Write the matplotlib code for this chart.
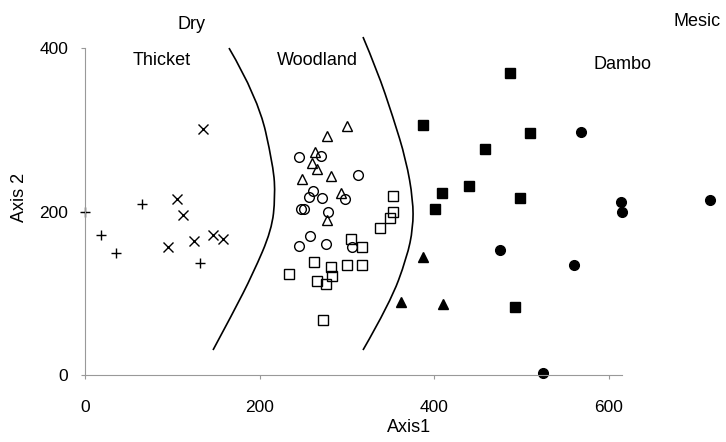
import matplotlib
matplotlib.use('Agg')
import matplotlib.pyplot as plt
from matplotlib.path import Path
from matplotlib.patches import PathPatch

plt.rcParams['font.family'] = ['Liberation Sans', 'DejaVu Sans']

# Thicket (+ and x)
plus_x = [0, 18, 35.5, 65, 132]
plus_y = [200, 171, 149, 209.5, 136.6]
cross_x = [135, 105.5, 112.3, 95.5, 124.5, 147, 157.8]
cross_y = [301, 215.6, 196, 157, 163.5, 171.6, 166]

# Woodland (open symbols)
otri_x = [300, 277, 263.6, 260, 265.5, 249, 282, 293, 277.7]
otri_y = [305, 292, 273, 259, 252, 240, 243, 223, 189.6]
ocirc_x = [245.6, 270.5, 312.5, 261, 257, 272, 298, 247, 251, 278, 258, 245, 276, 306]
ocirc_y = [267, 268, 244.6, 225, 218, 216.5, 215, 202.6, 202.6, 200, 170, 158, 160, 157]
osq_x = [352.5, 353, 349.6, 338.5, 304.5, 317, 263, 281.5, 300.6, 317, 234, 283.5, 266, 276, 273]
osq_y = [219, 200, 191.6, 180, 167, 157, 138, 132.5, 135, 135, 123.5, 121, 115, 111, 67]

# Dambo (filled symbols)
fsq_x = [487.5, 387.7, 510, 458, 440, 409, 498.5, 400.7, 493]
fsq_y = [369, 306, 296, 276, 231.6, 223, 217, 203.5, 83]
fcirc_x = [568.5, 614.7, 616, 716, 475.6, 560, 525]
fcirc_y = [297, 212, 200, 214, 153, 134, 3]
ftri_x = [387.4, 362.5, 410]
ftri_y = [144.7, 89.7, 87]

# boundary curves (control points)
left_x = [165, 198, 216, 218, 214, 192.5, 169.6, 146.7]
left_y = [400, 340, 255, 218, 177.5, 124, 76, 30.6]
right_x = [318.6, 334.7, 353, 368, 376, 376, 369, 349.6, 318.6]
right_y = [413.5, 373, 315.6, 263, 214, 180, 144, 88, 30.6]


def smooth_path(xs, ys):
    pts = list(zip(xs, ys))
    verts = [pts[0]]
    codes = [Path.MOVETO]
    for i in range(1, len(pts) - 1):
        nxt = pts[i + 1]
        if i < len(pts) - 2:
            end = ((pts[i][0] + nxt[0]) / 2, (pts[i][1] + nxt[1]) / 2)
        else:
            end = nxt
        verts += [pts[i], end]
        codes += [Path.CURVE3, Path.CURVE3]
    return Path(verts, codes)


fig = plt.figure(figsize=(7.26, 4.42), dpi=100)
ax = fig.add_axes([0.1051, 0.1330, 0.8893, 0.8323])
ax.set_xlim(-10, 730)
ax.set_ylim(-10, 440)

for cx, cy in [(left_x, left_y), (right_x, right_y)]:
    ax.add_patch(PathPatch(smooth_path(cx, cy), fc='none', ec='black', lw=1.2))

kw = dict(linestyle='none', mec='black', mew=1.0)
ax.plot(plus_x, plus_y, marker='+', ms=7, color='black', **kw)
ax.plot(cross_x, cross_y, marker='x', ms=7, color='black', **kw)
ax.plot(otri_x, otri_y, marker='^', ms=6.5, mfc='none', **kw)
ax.plot(ocirc_x, ocirc_y, marker='o', ms=7, mfc='none', **kw)
ax.plot(osq_x, osq_y, marker='s', ms=6.5, mfc='none', **kw)
ax.plot(fsq_x, fsq_y, marker='s', ms=7, mfc='black', **kw)
ax.plot(fcirc_x, fcirc_y, marker='o', ms=7, mfc='black', **kw)
ax.plot(ftri_x, ftri_y, marker='^', ms=6.5, mfc='black', **kw)

for s in ['top', 'right']:
    ax.spines[s].set_visible(False)
ax.spines['left'].set_bounds(0, 400)
ax.spines['bottom'].set_bounds(0, 615)
for s in ['left', 'bottom']:
    ax.spines[s].set_color('#999999')
    ax.spines[s].set_linewidth(0.8)
    ax.spines[s].set_position(('data', 0))

ax.set_xticks([0, 200, 400, 600])
ax.set_yticks([0, 200, 400])
ax.tick_params(axis='both', length=3, color='#999999', labelsize=12.5, pad=6)
ax.tick_params(axis='y', pad=9)
ax.tick_params(axis='x', pad=15)

fs = 13
ax.text(122, 429, 'Dry', fontsize=fs, ha='center', va='center')
ax.text(702, 433, 'Mesic', fontsize=fs, ha='center', va='center')
ax.text(88, 385, 'Thicket', fontsize=fs, ha='center', va='center')
ax.text(266, 385, 'Woodland', fontsize=fs, ha='center', va='center')
ax.text(616, 380, 'Dambo', fontsize=fs, ha='center', va='center')
fig.text(19 / 726, 1 - 197 / 442, 'Axis 2', fontsize=fs, rotation=90,
         ha='center', va='center')
fig.text(409 / 726, 1 - 427 / 442, 'Axis1', fontsize=fs, ha='center', va='center')

fig.savefig('out.png', dpi=100)
